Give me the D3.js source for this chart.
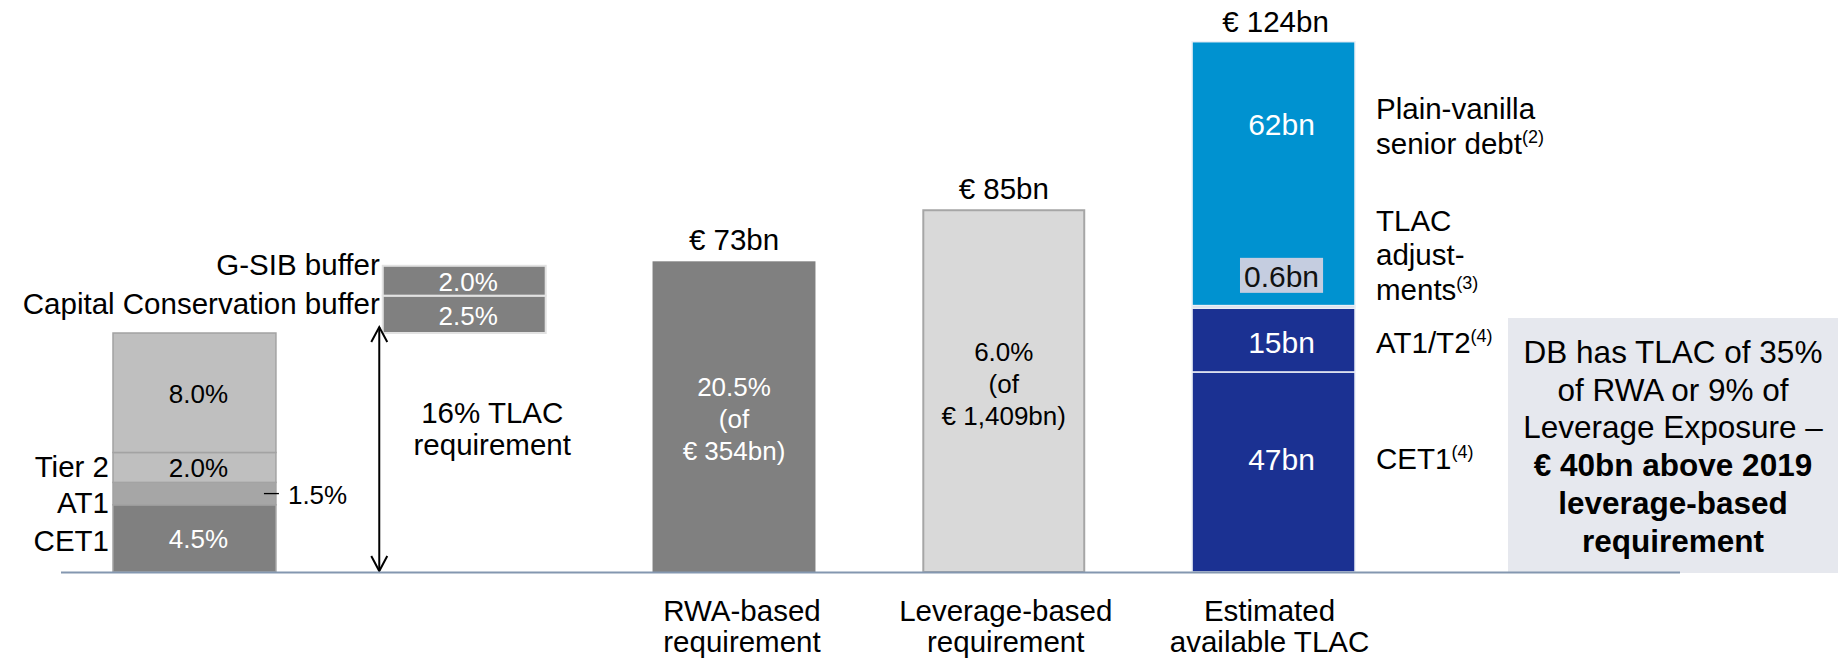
<!doctype html>
<html>
<head>
<meta charset="utf-8">
<style type="text/css">
    html,body{
        margin: 0;
        overflow: hidden;
        background: #fff;
    }
    text {
        font-family: "Liberation Sans", Arial, sans-serif;
        fill: #000;
    }
</style>
</head>
<body>
<script src="https://cdn.jsdelivr.net/npm/d3@7"></script>
<script type="text/javascript">
// columns along the bottom
var columns = ["Minimum", "Buffers", "RWA", "Leverage", "Estimated"];

// minimum TLAC build-up, % of RWA (bottom to top)
var minNames = ["CET1", "AT1", "Tier 2", ""];
var minValues = [4.5, 1.5, 2.0, 8.0];
var minLabels = ["4.5%", "", "2.0%", "8.0%"];
var at1Callout = "1.5%";

// buffers stacked on top of the 16%
var bufferNames = ["Capital Conservation buffer", "G-SIB buffer"];
var bufferValues = [2.5, 2.0];
var bufferLabels = ["2.5%", "2.0%"];
var tlacReq = ["16% TLAC", "requirement"];

// requirements, EUR bn
var reqNames = ["RWA", "Leverage"];
var reqValues = [73, 85];
var reqTotals = ["€ 73bn", "€ 85bn"];
var reqInner = [["20.5%", "(of", "€ 354bn)"], ["6.0%", "(of", "€ 1,409bn)"]];

// estimated available TLAC, EUR bn (bottom to top)
var tlacValues = [47, 15, 0.6, 62];
var tlacLabels = ["47bn", "15bn", "0.6bn", "62bn"];
var tlacTotal = "€ 124bn";
var tlacNames = [[["CET1", "(4)"]], [["AT1/T2", "(4)"]],
                 [["TLAC", ""], ["adjust-", ""], ["ments", "(3)"]],
                 [["Plain-vanilla", ""], ["senior debt", "(2)"]]];

var categoryLines = {
    RWA: ["RWA-based", "requirement"],
    Leverage: ["Leverage-based", "requirement"],
    Estimated: ["Estimated", "available TLAC"]
};

var boxLines = ["DB has TLAC of 35%", "of RWA or 9% of", "Leverage Exposure –",
                "€ 40bn above 2019", "leverage-based", "requirement"];

(function(){
    var w = 1842, h = 661, base = 572;

    var svg = d3.select("body").append("svg")
        .attr("width", w)
        .attr("height", h);

    var x = d3.scaleBand().domain(columns).range([113, 1355])
        .paddingInner(0.396).paddingOuter(0);
    var bw = x.bandwidth();
    var yPct = d3.scaleLinear().domain([0, 16]).range([base, 333]);
    var yBn = d3.scaleLinear().domain([0, 124.6]).range([base, 41.7]);

    function stack(vals, start){
        var acc = start || 0;
        return vals.map(function(v, i){
            var d = {i: i, v: v, y0: acc, y1: acc + v};
            acc += v;
            return d;
        });
    }

    // ---- minimum stack
    var minFill = ["#808080", "#a6a6a6", "#bfbfbf", "#bfbfbf"];
    var minData = stack(minValues);
    var gMin = svg.append("g");
    gMin.selectAll("rect").data(minData).enter().append("rect")
        .attr("x", x("Minimum"))
        .attr("width", bw)
        .attr("y", function(d){return yPct(d.y1)})
        .attr("height", function(d){return yPct(d.y0) - yPct(d.y1)})
        .attr("fill", function(d){return minFill[d.i]})
        .attr("stroke", "#a3a3a3")
        .attr("stroke-width", 1.5);

    gMin.selectAll("text.in").data(minData).enter().append("text")
        .attr("class", "in")
        .attr("x", x("Minimum") + bw/2 + 4)
        .attr("y", function(d){return yPct((d.y0 + d.y1)/2) + 10})
        .attr("text-anchor", "middle")
        .style("font-size", "26px")
        .style("fill", function(d){return d.i == 0 ? "#fff" : "#000"})
        .text(function(d){return minLabels[d.i]});

    var sideDy = [13, 19.5, 10];
    gMin.selectAll("text.side").data(minData.slice(0, 3)).enter().append("text")
        .attr("class", "side")
        .attr("x", x("Minimum") - 4)
        .attr("y", function(d){return yPct((d.y0 + d.y1)/2) + sideDy[d.i]})
        .attr("text-anchor", "end")
        .style("font-size", "29.5px")
        .text(function(d){return minNames[d.i]});

    var at1 = minData[1], at1y = yPct((at1.y0 + at1.y1)/2);
    gMin.append("line")
        .attr("x1", x("Minimum") + bw - 12).attr("x2", x("Minimum") + bw + 3)
        .attr("y1", at1y).attr("y2", at1y)
        .attr("stroke", "#000").attr("stroke-width", 1.3);
    gMin.append("text")
        .attr("x", x("Minimum") + bw + 12)
        .attr("y", at1y + 10.5)
        .style("font-size", "26px")
        .text(at1Callout);

    // ---- buffers
    var bufData = stack(bufferValues, d3.sum(minValues));
    var gBuf = svg.append("g");
    gBuf.selectAll("rect").data(bufData).enter().append("rect")
        .attr("x", x("Buffers"))
        .attr("width", bw)
        .attr("y", function(d){return yPct(d.y1)})
        .attr("height", function(d){return yPct(d.y0) - yPct(d.y1)})
        .attr("fill", "#808080")
        .attr("stroke", "#e2e2e2")
        .attr("stroke-width", 2);
    gBuf.selectAll("text.in").data(bufData).enter().append("text")
        .attr("class", "in")
        .attr("x", x("Buffers") + bw/2 + 4)
        .attr("y", function(d){return yPct((d.y0 + d.y1)/2) + 10.5})
        .attr("text-anchor", "middle")
        .style("font-size", "26px")
        .style("fill", "#fff")
        .text(function(d){return bufferLabels[d.i]});
    var bufDy = [0, -5.5];
    gBuf.selectAll("text.side").data(bufData).enter().append("text")
        .attr("class", "side")
        .attr("x", x("Buffers") - 3)
        .attr("y", function(d){return yPct((d.y0 + d.y1)/2) + bufDy[d.i]})
        .attr("text-anchor", "end")
        .style("font-size", "29.5px")
        .text(function(d){return bufferNames[d.i]});

    // double arrow for the 16% requirement
    var ax = x("Buffers") - 3.5, aTop = yPct(16) - 6, aBot = yPct(0) - 1;
    var gA = svg.append("g").attr("stroke", "#000").attr("stroke-width", 2).attr("fill", "none");
    gA.append("line").attr("x1", ax).attr("x2", ax).attr("y1", aTop).attr("y2", aBot);
    gA.append("polyline").attr("points", [[ax-8, aTop+15], [ax, aTop], [ax+8, aTop+15]].join(" "));
    gA.append("polyline").attr("points", [[ax-8, aBot-15], [ax, aBot], [ax+8, aBot-15]].join(" "));

    svg.selectAll("text.req").data(tlacReq).enter().append("text")
        .attr("class", "req")
        .attr("x", x("Buffers") + bw/2 + 28)
        .attr("y", function(d, i){return 423 + i*32})
        .attr("text-anchor", "middle")
        .style("font-size", "29.5px")
        .text(function(d){return d});

    // ---- RWA / leverage requirement bars
    var reqFill = ["#808080", "#d9d9d9"], reqStroke = ["none", "#a6a6a6"];
    var innerDy = [11.5, 2], innerCol = ["#fff", "#000"];
    reqNames.forEach(function(n, i){
        var g = svg.append("g");
        g.append("rect")
            .attr("x", x(n) + (i ? 1 : 0))
            .attr("width", bw - (i ? 2 : 0))
            .attr("y", yBn(reqValues[i]))
            .attr("height", yBn(0) - yBn(reqValues[i]))
            .attr("fill", reqFill[i])
            .attr("stroke", reqStroke[i])
            .attr("stroke-width", 2);
        g.append("text")
            .attr("x", x(n) + bw/2)
            .attr("y", yBn(reqValues[i]) - 11)
            .attr("text-anchor", "middle")
            .style("font-size", "29.5px")
            .text(reqTotals[i]);
        var mid = yBn(reqValues[i]/2) + innerDy[i];
        g.selectAll("text.in").data(reqInner[i]).enter().append("text")
            .attr("class", "in")
            .attr("x", x(n) + bw/2)
            .attr("y", function(d, k){return mid + (k - 1)*32})
            .attr("text-anchor", "middle")
            .style("font-size", "26px")
            .style("fill", innerCol[i])
            .text(function(d){return d});
    });

    // ---- estimated available TLAC
    var tData = stack(tlacValues);
    var tFill = ["#1b3192", "#1b3192", "#c9d1e4", "#0092d0"];
    var gT = svg.append("g");
    gT.selectAll("rect").data(tData).enter().append("rect")
        .attr("x", x("Estimated"))
        .attr("width", bw)
        .attr("y", function(d){return yBn(d.y1)})
        .attr("height", function(d){return yBn(d.y0) - yBn(d.y1)})
        .attr("fill", function(d){return tFill[d.i]})
        .attr("stroke", "#eceff6")
        .attr("stroke-width", 1.5);

    var tDy = [-2, 13, -20, -39];
    var tlx = x("Estimated") + bw/2 + 8;
    tData.forEach(function(d){
        d.ly = yBn((d.y0 + d.y1)/2) + tDy[d.i];
    });
    var adj = tData[2];
    var adjText = gT.append("text")
        .attr("x", tlx).attr("y", adj.ly)
        .attr("text-anchor", "middle")
        .style("font-size", "30px")
        .style("fill", "#111")
        .text(tlacLabels[2]);
    var bb = adjText.node().getBBox();
    gT.insert("rect", "text")
        .attr("x", bb.x - 4).attr("y", bb.y - 2)
        .attr("width", bb.width + 8).attr("height", bb.height + 2)
        .attr("fill", "#c5cde0");

    gT.selectAll("text.in").data(tData.filter(function(d){return d.i != 2})).enter().append("text")
        .attr("class", "in")
        .attr("x", tlx)
        .attr("y", function(d){return d.ly})
        .attr("text-anchor", "middle")
        .style("font-size", "30px")
        .style("fill", "#fff")
        .text(function(d){return tlacLabels[d.i]});

    gT.append("text")
        .attr("x", x("Estimated") + bw/2 + 2)
        .attr("y", yBn(d3.sum(tlacValues)) - 10)
        .attr("text-anchor", "middle")
        .style("font-size", "29.5px")
        .text(tlacTotal);

    // labels to the right of the stack
    var nameShift = [-1, 0, 13, 19];
    tData.forEach(function(d){
        var lines = tlacNames[d.i];
        var last = d.ly + nameShift[d.i];
        lines.forEach(function(l, k){
            var t = gT.append("text")
                .attr("x", x("Estimated") + bw + 21)
                .attr("y", last - (lines.length - 1 - k)*34.5)
                .style("font-size", "29.5px");
            t.append("tspan").text(l[0]);
            if (l[1]) {
                t.append("tspan").attr("dy", -11).style("font-size", "18px").text(l[1]);
            }
        });
    });

    // category labels under the axis
    var catShift = {RWA: 8, Leverage: 2, Estimated: -4};
    svg.selectAll("g.cat").data(Object.keys(categoryLines))
        .enter().append("g").attr("class", "cat")
        .each(function(n){
            d3.select(this).selectAll("text").data(categoryLines[n]).enter().append("text")
                .attr("x", x(n) + bw/2 + catShift[n])
                .attr("y", function(d, k){return base + 49 + k*31})
                .attr("text-anchor", "middle")
                .style("font-size", "29.5px")
                .text(function(d){return d});
        });

    // ---- callout box
    var bx = x("Estimated") + bw + 153, bwid = 330;
    svg.append("rect")
        .attr("x", bx).attr("y", 318)
        .attr("width", bwid).attr("height", base + 1 - 318)
        .attr("fill", "#e6e8ee");
    svg.selectAll("text.box").data(boxLines).enter().append("text")
        .attr("class", "box")
        .attr("x", bx + bwid/2)
        .attr("y", function(d, i){return 363 + i*37.7})
        .attr("text-anchor", "middle")
        .style("font-size", "31.5px")
        .style("font-weight", function(d, i){return i >= 3 ? "bold" : "normal"})
        .text(function(d){return d});

    // baseline
    svg.append("line")
        .attr("x1", 61).attr("x2", 1680)
        .attr("y1", base + 0.5).attr("y2", base + 0.5)
        .attr("stroke", "#8497b0")
        .attr("stroke-width", 2);
})();
</script>
</body>
</html>
